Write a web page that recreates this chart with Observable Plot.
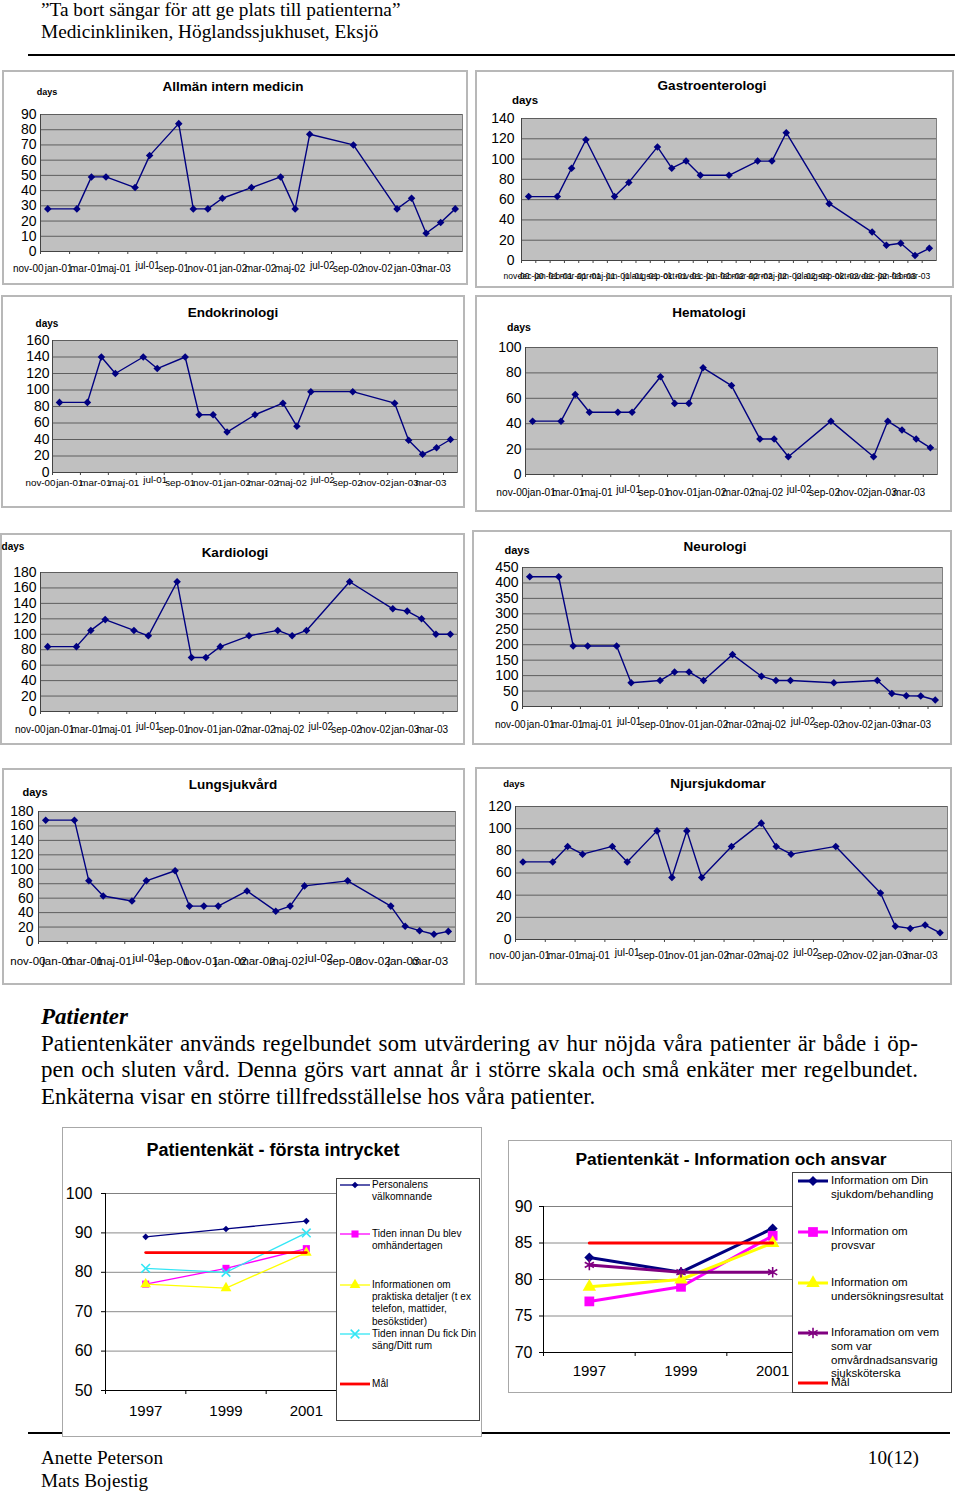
<!DOCTYPE html>
<html><head><meta charset="utf-8">
<script src="https://cdn.jsdelivr.net/npm/d3@7"></script>
<script src="https://cdn.jsdelivr.net/npm/@observablehq/plot@0.6"></script>
<style>
body{margin:0;background:#fff;}
#page{position:relative;width:960px;height:1492px;overflow:hidden;font-family:"Liberation Sans",Arial,sans-serif;color:#000;}
.abs{position:absolute;}
.serif{font-family:"Liberation Serif","Times New Roman",serif;color:#000;}
.box{position:absolute;box-sizing:border-box;border:2px solid #b8b8b8;background:#fff;}
.ctr{position:absolute;transform:translate(-50%,-50%);white-space:nowrap;font-weight:bold;line-height:1;}
.lg{position:absolute;white-space:pre;font-family:"Liberation Sans",Arial,sans-serif;}
svg.plotsvg{position:absolute;overflow:visible;}
</style></head>
<body><div id="page"></div>
<script>
// ---------- data ----------
const dates = ["2000-11","2001-01","2001-02","2001-03","2001-05","2001-06","2001-08","2001-09","2001-10","2001-11",
               "2002-01","2002-03","2002-04","2002-05","2002-08","2002-11","2002-12","2003-01","2003-02","2003-03"];
const monthTicks = ["nov-00","dec-00","jan-01","feb-01","mar-01","apr-01","maj-01","jun-01","jul-01","aug-01","sep-01","okt-01",
                    "nov-01","dec-01","jan-02","feb-02","mar-02","apr-02","maj-02","jun-02","jul-02","aug-02","sep-02","okt-02",
                    "nov-02","dec-02","jan-03","feb-03","mar-03"];
const allmanIntern   = [28,28,49,49,42,63,84,28,28,35,42,49,28,77,70,28,35,12,19,28];
const gastroenterologi = [63,63,91,119,63,77,112,91,98,84,84,98,98,126,56,28,15,17,5,12];
const endokrinologi  = [85,85,140,120,140,126,140,70,70,49,70,84,56,98,98,84,39,22,30,40];
const hematologi     = [42,42,63,49,49,49,77,56,56,84,70,28,28,14,42,14,42,35,28,21];
const kardiologi     = [84,84,105,119,105,98,168,70,70,84,98,105,98,105,168,133,130,120,100,100];
const neurologi      = [420,420,196,196,196,77,84,112,112,84,168,98,84,84,77,84,42,35,34,21];
const lungsjukvard   = [168,168,84,63,56,84,98,49,49,49,70,42,49,77,84,49,21,15,10,14];
const njursjukdomar  = [70,70,84,77,84,70,98,56,98,56,84,105,84,77,84,42,12,10,13,6];

const surveyYears = ["1997","1999","2001"];
const firstNames = ["Personalens\nvälkomnande","Tiden innan Du blev\nomhändertagen",
  "Informationen om\npraktiska detaljer (t ex\ntelefon, mattider,\nbesökstider)","Tiden innan Du fick Din\nsäng/Ditt rum","Mål"];
const valkomnande = [89,91,93];
const omhandertagen = [77,81,86];
const praktiska = [77,76,85];
const sangRum = [81,80,90];
const malFirst = [85,85,85];
const infoNames = ["Information om Din\nsjukdom/behandling","Information om\nprovsvar","Information om\nundersökningsresultat",
  "Inforamation om vem\nsom var\nomvårdnadsansvarig\nsjuksköterska","Mål"];
const sjukdom = [83,81,87];
const provsvar = [77,79,86];
const undersokning = [79,80,85];
const omvardnad = [82,81,81];
const malInfo = [85,85,85];

// ---------- helpers ----------
const page = document.getElementById("page");
function el(tag, cls, css, text) {
  const e = document.createElement(tag);
  if (cls) e.className = cls;
  Object.assign(e.style, css);
  if (text != null) e.textContent = text;
  page.appendChild(e);
  return e;
}
function place(svg, x, y) {
  svg.classList.add("plotsvg");
  svg.style.left = x + "px"; svg.style.top = y + "px";
  page.appendChild(svg);
}
const monthIndex = s => { const [y, m] = s.split("-").map(Number); return (y - 2000) * 12 + (m - 1) - 10; };
const FONT = "Liberation Sans, Arial, sans-serif";

// ---------- header ----------
el("div","abs serif",{left:"41px",top:"-1px",fontSize:"19.3px",lineHeight:"21.5px",whiteSpace:"pre"},
  "\u201DTa bort sängar för att ge plats till patienterna\u201D\nMedicinkliniken, Höglandssjukhuset, Eksjö");
el("div","abs",{left:"28px",top:"54px",width:"927px",height:"2px",background:"#000"});

// ---------- small charts ----------
const smallLayout = [
 {title:"Allmän intern medicin", values:allmanIntern, box:[2,70,468,285], plot:[40,114,462,251], yMax:90, yStep:10, t:[233,87], d:[47,92,9], dy:20, fs:10, dx:3, gap:4},
 {title:"Gastroenterologi", values:gastroenterologi, box:[475,70,954,288], plot:[521,118,936,260], yMax:140, yStep:20, t:[712,86], d:[525,101,11.5], dy:18, fs:8.5, dx:8, gap:7, monthly:true},
 {title:"Endokrinologi", values:endokrinologi, box:[1,295,465,508], plot:[52,340,457,472], yMax:160, yStep:20, t:[233,313], d:[47,324,10], dy:13, fs:9.8, dx:3, gap:3},
 {title:"Hematologi", values:hematologi, box:[475,295,952,512], plot:[525,347,937,474], yMax:100, yStep:20, t:[709,313], d:[519,327,10.5], dy:21, fs:10.2, dx:2, gap:4},
 {title:"Kardiologi", values:kardiologi, box:[0,533,465,745], plot:[40,572,457,711], yMax:180, yStep:20, t:[235,553], d:[13,547,10], dy:21, fs:10, dx:5, gap:4},
 {title:"Neurologi", values:neurologi, box:[472,530,952,745], plot:[522,567,942,706], yMax:450, yStep:50, t:[715,547], d:[517,550,11], dy:21, fs:10, dx:3, gap:4},
 {title:"Lungsjukvård", values:lungsjukvard, box:[2,768,465,985], plot:[38,811,455,941], yMax:180, yStep:20, t:[233,785], d:[35,792,11], dy:23, fs:11.5, dx:7, gap:5},
 {title:"Njursjukdomar", values:njursjukdomar, box:[475,767,952,985], plot:[515,806,947,939], yMax:120, yStep:20, t:[718,784], d:[514,784,9.5], dy:19, fs:10.2, dx:5, gap:4},
];

for (const L of smallLayout) {
  const [bx1,by1,bx2,by2] = L.box, [px1,py1,px2,py2] = L.plot;
  el("div","box",{left:bx1+"px",top:by1+"px",width:(bx2-bx1)+"px",height:(by2-by1)+"px"});
  const pts = dates.map((d,i)=>({m: monthIndex(d) + 0.5, v: L.values[i]}));
  const step = L.monthly ? 1 : 2;
  const ticks = monthTicks.map((t,i)=>({i, t})).filter(d => d.i % step === 0);
  const yt = d3.range(0, L.yMax + 1e-9, L.yStep);
  const isJul = d => !L.monthly && d.t.startsWith("jul");
  const svg = Plot.plot({
    width: bx2-bx1, height: by2-by1,
    marginLeft: px1-bx1, marginRight: bx2-px2, marginTop: py1-by1, marginBottom: by2-py2,
    style: {background:"transparent", fontFamily: FONT, color:"#000", overflow:"visible"},
    x: {domain:[0,29], label:null},
    y: {domain:[0,L.yMax], label:null},
    marks: [
      Plot.frame({fill:"#c0c0c0", stroke:"#808080"}),
      Plot.gridY(yt, {stroke:"#5e5e5e", strokeOpacity:1}),
      Plot.ruleY([0], {stroke:"#444"}),
      Plot.ruleX([0], {stroke:"#444"}),
      Plot.axisY(yt, {tickSize:0, tickPadding:L.gap, fontSize:14, label:null}),
      Plot.axisX(ticks.map(d=>d.i), {tickSize:3, tickFormat:()=>"", label:null, stroke:"#444"}),
      Plot.text(ticks.filter(d=>!isJul(d)), {x:"i", text:"t", frameAnchor:"bottom", dy:L.dy, dx:L.dx, textAnchor:"end", fontSize:L.fs, fill:"#000"}),
      Plot.text(ticks.filter(isJul), {x:"i", text:"t", frameAnchor:"bottom", dy:L.dy-3, dx:L.dx, textAnchor:"end", fontSize:L.fs, fill:"#000"}),
      Plot.line(pts, {x:"m", y:"v", stroke:"#000080", strokeWidth:1.4}),
      Plot.dot(pts, {x:"m", y:"v", symbol:"diamond2", r:3.4, fill:"#000080", stroke:"none"})
    ]
  });
  place(svg, bx1, by1);
  el("div","ctr",{left:L.t[0]+"px",top:L.t[1]+"px",fontSize:"13.5px"}, L.title);
  el("div","ctr",{left:L.d[0]+"px",top:L.d[1]+"px",fontSize:L.d[2]+"px"}, "days");
}

// ---------- body text ----------
el("div","abs serif",{left:"41px",top:"1004px",fontSize:"23px",lineHeight:"26.5px",fontWeight:"bold",fontStyle:"italic"},"Patienter");
const bodyLines = [
  "Patientenkäter används regelbundet som utvärdering av hur nöjda våra patienter är både i öp-",
  "pen och sluten vård. Denna görs vart annat år i större skala och små enkäter mer regelbundet.",
  "Enkäterna visar en större tillfredsställelse hos våra patienter."
];
bodyLines.forEach((t,i)=>{
  el("div","abs serif",{left:"41px",top:(1004+26.5*(i+1))+"px",width:"877px",fontSize:"23px",lineHeight:"26.5px",
     textAlign:"justify",textAlignLast: i<2 ? "justify" : "left"}, t);
});

// ---------- footer rule (under chart boxes) ----------
el("div","abs",{left:"28px",top:"1432px",width:"922px",height:"1.5px",background:"#000"});

// ---------- survey charts ----------
function survey(L, names, seriesVals, styles) {
  const [bx1,by1,bx2,by2] = L.box, [px1,py1,px2,py2] = L.plot;
  el("div","box",{left:bx1+"px",top:by1+"px",width:(bx2-bx1)+"px",height:(by2-by1)+"px",border:"1.5px solid #a8a8a8"});
  const yt = d3.range(L.y0, L.y1 + 1e-9, L.yStep);
  const marks = [
    Plot.frame({stroke:"#808080"}),
    Plot.gridY(yt.slice(1,-1), {stroke:"#8a8a8a", strokeOpacity:1}),
    Plot.ruleY([L.y0], {stroke:"#000"}),
    Plot.ruleX([0], {stroke:"#000"}),
    Plot.axisY(yt, {tickSize:4, tickPadding:L.gap, fontSize:L.yfs, label:null, stroke:"#000"}),
    Plot.axisX([0,1,2,3], {tickSize:4, tickFormat:()=>"", label:null, stroke:"#000"}),
    Plot.text(surveyYears, {x:(d,i)=>i+0.5, text:d=>d, frameAnchor:"bottom", dy:L.xdy, fontSize:15, fill:"#000"})
  ];
  seriesVals.forEach((vals,k)=>{
    const s = styles[k];
    const pts = vals.map((v,i)=>({x:i+0.5, v}));
    marks.push(Plot.line(pts, {x:"x", y:"v", stroke:s.color, strokeWidth:s.w}));
    if (s.symbol) {
      const o = {x:"x", y:"v", symbol:s.symbol, r:s.r};
      if (s.hollow) { o.stroke = s.color; o.fill = "none"; o.strokeWidth = 1.6; }
      else { o.fill = s.color; o.stroke = "none"; }
      marks.push(Plot.dot(pts, o));
    }
  });
  const svg = Plot.plot({
    width: bx2-bx1, height: by2-by1,
    marginLeft: px1-bx1, marginRight: bx2-px2, marginTop: py1-by1, marginBottom: by2-py2,
    style: {background:"transparent", fontFamily: FONT, color:"#000", overflow:"visible"},
    x: {domain:[0,3], label:null},
    y: {domain:[L.y0,L.y1], label:null},
    marks
  });
  place(svg, bx1, by1);
  el("div","ctr",{left:L.t[0]+"px",top:L.t[1]+"px",fontSize:L.tfs+"px"}, L.title);
  // legend
  const [lx1,ly1,lx2,ly2] = L.legend;
  el("div","abs",{left:lx1+"px",top:ly1+"px",width:(lx2-lx1)+"px",height:(ly2-ly1)+"px",boxSizing:"border-box",border:"1px solid #444",background:"#fff"});
  const symMap = {diamond2:d3.symbolDiamond2, square:d3.symbolSquare, triangle:d3.symbolTriangle, times:d3.symbolTimes, asterisk:d3.symbolAsterisk};
  names.forEach((name,k)=>{
    const s = styles[k], y = L.itemY[k];
    const sw = d3.create("svg").attr("width",30).attr("height",16)
      .style("position","absolute").style("left",L.swX+"px").style("top",(y-8)+"px").style("overflow","visible");
    sw.append("line").attr("x1",0).attr("x2",30).attr("y1",8).attr("y2",8).attr("stroke",s.color).attr("stroke-width",s.w);
    if (s.symbol) {
      const p = sw.append("path").attr("transform","translate(15,8)").attr("d", d3.symbol(symMap[s.symbol], Math.PI*s.r*s.r)());
      if (s.hollow) p.attr("fill","none").attr("stroke",s.color).attr("stroke-width",1.6);
      else p.attr("fill",s.color);
    }
    page.appendChild(sw.node());
    el("div","lg",{left:L.txtX+"px",top:(y - L.lh/2)+"px",fontSize:L.lfs+"px",lineHeight:L.lh+"px",letterSpacing:L.ls+"px"}, name);
  });
}

survey(
  {box:[62,1127,482,1437], plot:[105,1193,346,1390], y0:50, y1:100, yStep:10, gap:9, yfs:16, xdy:25,
   t:[273,1150], tfs:18, title:"Patientenkät - första intrycket",
   legend:[336,1178,480,1421], itemY:[1185,1234,1285,1334,1384], swX:340, txtX:372, lfs:10, lh:12.3, ls:0.05},
  firstNames, [valkomnande, omhandertagen, praktiska, sangRum, malFirst],
  [{color:"#000080", w:1.3, symbol:"diamond2", r:3},
   {color:"#ff00ff", w:1.3, symbol:"square", r:4},
   {color:"#ffff00", w:1.3, symbol:"triangle", r:4},
   {color:"#33e6f5", w:1.3, symbol:"times", r:4, hollow:true},
   {color:"#ff0000", w:2.8}]
);

survey(
  {box:[508,1140,952,1393], plot:[543,1206,818,1352], y0:70, y1:90, yStep:5, gap:7, yfs:16, xdy:23,
   t:[731,1160], tfs:17.4, title:"Patientenkät - Information och ansvar",
   legend:[792,1172,952,1393], itemY:[1181,1232,1283,1333,1383], swX:798, txtX:831, lfs:11.5, lh:13.7, ls:0},
  infoNames, [sjukdom, provsvar, undersokning, omvardnad, malInfo],
  [{color:"#000080", w:3, symbol:"diamond2", r:4.5},
   {color:"#ff00ff", w:3, symbol:"square", r:5.5},
   {color:"#ffff00", w:3, symbol:"triangle", r:5},
   {color:"#800080", w:3, symbol:"asterisk", r:5, hollow:true},
   {color:"#ff0000", w:3}]
);

// ---------- footer ----------
el("div","abs serif",{left:"41px",top:"1446px",fontSize:"19.2px",lineHeight:"23px",whiteSpace:"pre"},"Anette Peterson\nMats Bojestig");
el("div","abs serif",{right:"41px",top:"1446px",fontSize:"19.2px",lineHeight:"23px"},"10(12)");
</script></body></html>
